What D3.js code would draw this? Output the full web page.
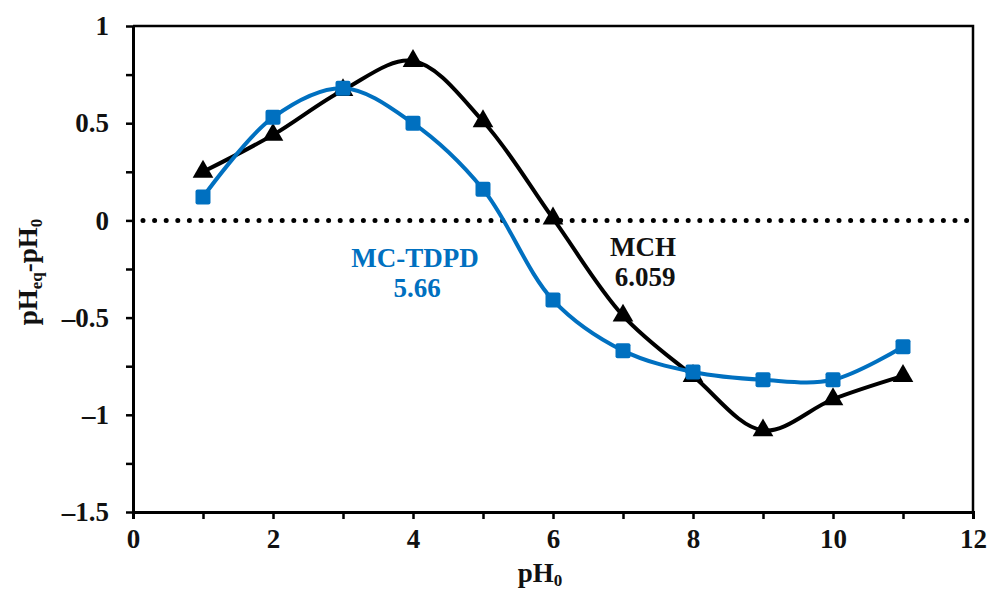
<!DOCTYPE html>
<html>
<head>
<meta charset="utf-8">
<script src="https://cdn.jsdelivr.net/npm/d3@7"></script>
<style>
  body { margin: 0; background: #fff; }
  text { font-family: "Liberation Serif", "Times New Roman", serif; font-weight: bold; }
</style>
</head>
<body>
<div id="chart"></div>
<script>
const phValues = [1, 2, 3, 4, 5, 6, 7, 8, 9, 10, 11]
const mchValues = [0.25, 0.44, 0.67, 0.82, 0.51, 0.01, -0.49, -0.80, -1.08, -0.92, -0.80]
const tdpdValues = [0.12, 0.53, 0.68, 0.50, 0.16, -0.41, -0.67, -0.78, -0.82, -0.82, -0.65]
const xTicks = [0, 2, 4, 6, 8, 10, 12]
const yTicks = [-1.5, -1, -0.5, 0, 0.5, 1]

const width = 988
const height = 591
const margin = { top: 26, left: 133, right: 15, bottom: 79 }
const blue = '#0070C0'
const fs = 27

const svg = d3
  .select('#chart')
  .append('svg')
  .attr('width', width)
  .attr('height', height)

const x = d3.scaleLinear().domain([0, 12]).range([margin.left, width - margin.right])
const y = d3.scaleLinear().domain([-1.5, 1]).range([height - margin.bottom, margin.top])

const fmt = d => (d < 0 ? '\u2013' + Math.abs(d) : String(d))

// frame (top + right)
svg.append('path')
  .attr('d', `M${x(0)},${y(1)}H${x(12)}V${y(-1.5)}`)
  .attr('fill', 'none')
  .attr('stroke', 'black')
  .attr('stroke-width', 2.5)

// x axis
const xAxis = svg.append('g')
  .attr('transform', `translate(0,${y(-1.5)})`)
  .call(d3.axisBottom(x).tickValues(d3.range(0, 13, 1)).tickSize(7).tickFormat(d => xTicks.includes(d) ? d : ''))
xAxis.select('.domain').attr('stroke-width', 3)
xAxis.selectAll('.tick line').attr('stroke-width', 2.5)
xAxis.selectAll('.tick text')
  .attr('font-size', fs)
  .attr('font-family', '"Liberation Serif", serif')
  .attr('font-weight', 'bold')
  .attr('fill', '#111')
  .attr('y', 17)
  .attr('dy', '0.71em')

// y axis
const yAxis = svg.append('g')
  .attr('transform', `translate(${x(0)},0)`)
  .call(d3.axisLeft(y).tickValues(d3.range(-1.5, 1.01, 0.25)).tickSize(7).tickSizeOuter(0)
    .tickFormat(d => yTicks.includes(d) ? fmt(d) : ''))
yAxis.select('.domain').attr('stroke-width', 3)
yAxis.selectAll('.tick line').attr('stroke-width', 2.5)
yAxis.selectAll('.tick text')
  .attr('font-size', fs)
  .attr('font-family', '"Liberation Serif", serif')
  .attr('font-weight', 'bold')
  .attr('fill', '#111')
  .attr('x', -24)

// zero dotted line
svg.append('line')
  .attr('x1', x(0) + 10)
  .attr('x2', x(12) - 4)
  .attr('y1', y(0))
  .attr('y2', y(0))
  .attr('stroke', 'black')
  .attr('stroke-width', 5)
  .attr('stroke-linecap', 'round')
  .attr('stroke-dasharray', '0 11.6')

const line = d3.line()
  .x((d, i) => x(phValues[i]))
  .y(d => y(d))
  .curve(d3.curveCatmullRom.alpha(0.5))

svg.append('path')
  .datum(mchValues)
  .attr('d', line)
  .attr('fill', 'none')
  .attr('stroke', 'black')
  .attr('stroke-width', 4)

svg.append('path')
  .datum(tdpdValues)
  .attr('d', line)
  .attr('fill', 'none')
  .attr('stroke', blue)
  .attr('stroke-width', 4)

const tri = d3.symbol().type(d3.symbolTriangle).size(185)
svg.selectAll('.tri')
  .data(mchValues)
  .enter()
  .append('path')
  .attr('class', 'tri')
  .attr('d', tri)
  .attr('fill', 'black')
  .attr('transform', (d, i) => `translate(${x(phValues[i])},${y(d)})`)

svg.selectAll('.sq')
  .data(tdpdValues)
  .enter()
  .append('rect')
  .attr('class', 'sq')
  .attr('x', (d, i) => x(phValues[i]) - 7.5)
  .attr('y', d => y(d) - 7.5)
  .attr('width', 15)
  .attr('height', 15)
  .attr('rx', 2)
  .attr('fill', blue)

// annotations
svg.append('text').attr('x', 415).attr('y', 267).attr('text-anchor', 'middle')
  .attr('font-size', fs).attr('fill', blue).text('MC-TDPD')
svg.append('text').attr('x', 417).attr('y', 297).attr('text-anchor', 'middle')
  .attr('font-size', fs).attr('fill', blue).text('5.66')
svg.append('text').attr('x', 643).attr('y', 256).attr('text-anchor', 'middle')
  .attr('font-size', fs).attr('fill', '#111').text('MCH')
svg.append('text').attr('x', 645).attr('y', 286).attr('text-anchor', 'middle')
  .attr('font-size', fs).attr('fill', '#111').text('6.059')

// axis titles
const xt = svg.append('text').attr('x', 540).attr('y', 582).attr('text-anchor', 'middle')
  .attr('font-size', fs).attr('fill', '#111')
xt.append('tspan').text('pH')
xt.append('tspan').attr('font-size', 17).attr('dy', 4).text('0')

const yt = svg.append('text')
  .attr('transform', `translate(37,${272}) rotate(-90)`)
  .attr('text-anchor', 'middle')
  .attr('font-size', fs).attr('fill', '#111')
yt.append('tspan').text('pH')
yt.append('tspan').attr('font-size', 17).attr('dy', 5).text('eq')
yt.append('tspan').attr('dy', -5).text('-pH')
yt.append('tspan').attr('font-size', 17).attr('dy', 5).text('0')
</script>
</body>
</html>
